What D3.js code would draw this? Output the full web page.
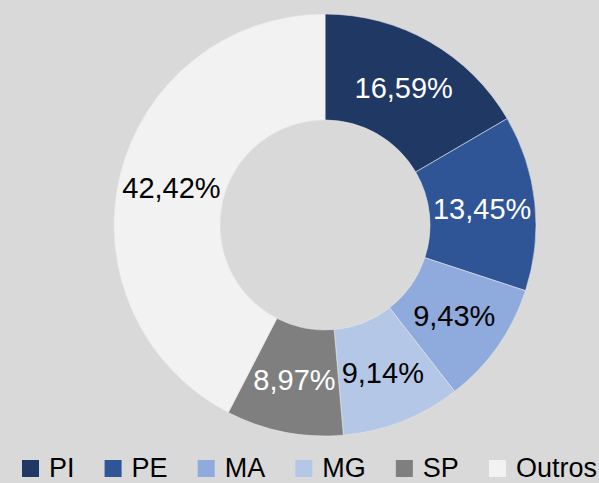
<!DOCTYPE html>
<html>
<head>
<meta charset="utf-8">
<style>
  body { margin: 0; background: #d9d9d9; }
  svg { display: block; font-family: "Liberation Sans", Arial, sans-serif; }
</style>
</head>
<body>
<svg width="599" height="483"></svg>
<script src="https://cdn.jsdelivr.net/npm/d3@7"></script>
<script>
// data
var categories = ["PI", "PE", "MA", "MG", "SP", "Outros"];
var values = [16.59, 13.45, 9.43, 9.14, 8.97, 42.42];
var colors = ["#1f3864", "#2f5597", "#8faadc", "#b4c7e7", "#7f7f7f", "#f2f2f2"];
var labelColors = ["#ffffff", "#ffffff", "#000000", "#000000", "#ffffff", "#000000"];

var svg = d3.select("svg");
var cx = 325, cy = 225;
var outerR = 211, innerR = 105;

var pie = d3.pie().sort(null).value(function(d) { return d; });
var arc = d3.arc().innerRadius(innerR).outerRadius(outerR);

var arcs = pie(values);

var g = svg.append("g").attr("transform", "translate(" + cx + "," + cy + ")");

g.selectAll("path")
  .data(arcs)
  .enter().append("path")
  .attr("d", arc)
  .attr("fill", function(d, i) { return colors[i]; })
  .attr("stroke", "#e6e6e6")
  .attr("stroke-width", 0.6);

var fmt = function(v) { return v.toFixed(2).replace(".", ",") + "%"; };

g.selectAll("text.lbl")
  .data(arcs)
  .enter().append("text")
  .attr("class", "lbl")
  .attr("transform", function(d) { return "translate(" + arc.centroid(d) + ")"; })
  .attr("text-anchor", "middle")
  .attr("dy", "0.36em")
  .attr("font-size", 29)
  .attr("fill", function(d, i) { return labelColors[i]; })
  .text(function(d) { return fmt(d.data); });

// legend
var leg = svg.append("g");
var items = leg.selectAll("g")
  .data(categories)
  .enter().append("g");

items.append("rect")
  .attr("width", 17).attr("height", 17)
  .attr("y", 460)
  .attr("fill", function(d, i) { return colors[i]; });

items.append("text")
  .attr("x", 27)
  .attr("y", 477)
  .attr("font-size", 27)
  .attr("fill", "#000")
  .text(function(d) { return d; });

var widths = [];
items.each(function() {
  widths.push(27 + d3.select(this).select("text").node().getComputedTextLength());
});
var startX = 22, endX = 597;
var total = d3.sum(widths);
var gap = (endX - startX - total) / (categories.length - 1);
var x = startX;
items.attr("transform", function(d, i) {
  var t = "translate(" + x + ",0)";
  x += widths[i] + gap;
  return t;
});
</script>
</body>
</html>
